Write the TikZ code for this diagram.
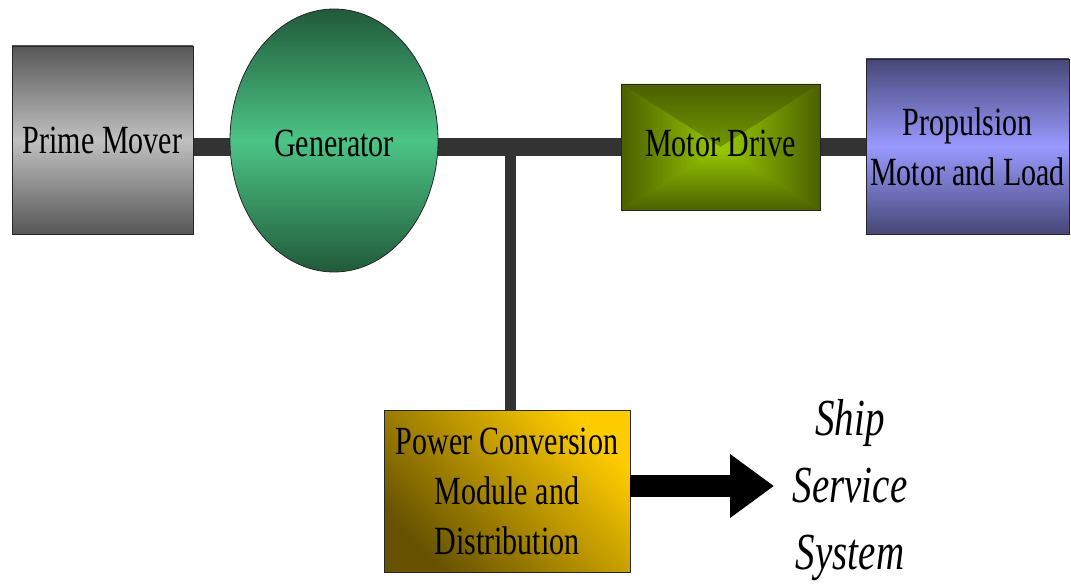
\documentclass[tikz,border=0pt]{standalone}
\usepackage{fontspec}
\setmainfont{Liberation Serif}[FakeStretch=0.75]
\usetikzlibrary{shapes.geometric,arrows.meta,backgrounds}

\definecolor{busgray}{HTML}{333333}
\definecolor{pmdark}{HTML}{575757}
\definecolor{pmlight}{HTML}{C0C0C0}
\definecolor{gendark}{HTML}{215A3A}
\definecolor{genlight}{HTML}{4CC486}
\definecolor{mdedge}{HTML}{4B6000}
\definecolor{mdcore}{HTML}{99CC00}
\definecolor{propdark}{HTML}{474777}
\definecolor{proplight}{HTML}{9999FF}
\definecolor{pcmlight}{HTML}{FFCC00}
\definecolor{pcmdark}{HTML}{665200}

\begin{document}
\begin{tikzpicture}[x=1pt,y=-1pt,
  box/.style={draw=black!85, line width=0.8pt, inner sep=0pt,
    font=\fontsize{40}{50}\selectfont, align=center},
  bus/.style={draw=busgray, line width=18pt},
  feeder/.style={draw=busgray, line width=11pt},
  feed arrow/.style={draw=black, line width=22pt,
    -{Triangle[length=44pt, width=61pt]}},
]
\useasboundingbox (0,0) rectangle (1071,588);

% components
\node[box, rectangle, minimum width=181pt, minimum height=188pt,
  top color=pmdark, bottom color=pmdark, middle color=pmlight]
  (pm) at (102.5,140) {Prime Mover};

\node[box, ellipse, minimum width=208pt, minimum height=263pt,
  top color=gendark, bottom color=gendark, middle color=genlight,
  text height=33pt, text depth=0pt]
  (gen) at (334,140.5) {Generator};

\node[box, rectangle, minimum width=199pt, minimum height=126pt,
  fill=mdedge!50!mdcore, text height=27pt, text depth=7pt,
  path picture={
    \shade[top color=mdedge, bottom color=mdcore]
      (path picture bounding box.north west) -- (path picture bounding box.north east)
      -- (path picture bounding box.center) -- cycle;
    \shade[top color=mdcore, bottom color=mdedge]
      (path picture bounding box.south west) -- (path picture bounding box.south east)
      -- (path picture bounding box.center) -- cycle;
    \shade[left color=mdedge, right color=mdcore]
      (path picture bounding box.north west) -- (path picture bounding box.south west)
      -- (path picture bounding box.center) -- cycle;
    \shade[left color=mdcore, right color=mdedge]
      (path picture bounding box.north east) -- (path picture bounding box.south east)
      -- (path picture bounding box.center) -- cycle;
  }]
  (md) at (720.5,147) {Motor Drive};

\node[box, rectangle, minimum width=203pt, minimum height=175pt,
  top color=propdark, bottom color=propdark, middle color=proplight]
  (prop) at (967.5,146.5) {Propulsion\\Motor and Load};

\node[box, rectangle, minimum width=246pt, minimum height=162pt,
  top color=pcmlight, bottom color=pcmdark, shading angle=-45]
  (pcm) at (507,491) {Power Conversion\\Module and\\Distribution};

\node[font=\fontsize{52}{67}\selectfont\itshape, align=center, inner sep=0pt]
  (ss) at (850,490) {Ship\\Service\\System};

% main bus and feeder
\begin{pgfonlayer}{background}
  \draw[bus] (pm.east |- md) -- (gen.west |- md);
  \draw[bus] (gen.east |- md) -- (md.west);
  \draw[bus] (md.east) -- (prop.west |- md);
  \coordinate (tee) at (510.5,147);
  \draw[feeder] (tee) -- (tee |- pcm.north);
\end{pgfonlayer}

% ship service feed
\coordinate (sstip) at (774,486);
\draw[feed arrow] (pcm.east |- sstip) -- (sstip);
\end{tikzpicture}
\end{document}
